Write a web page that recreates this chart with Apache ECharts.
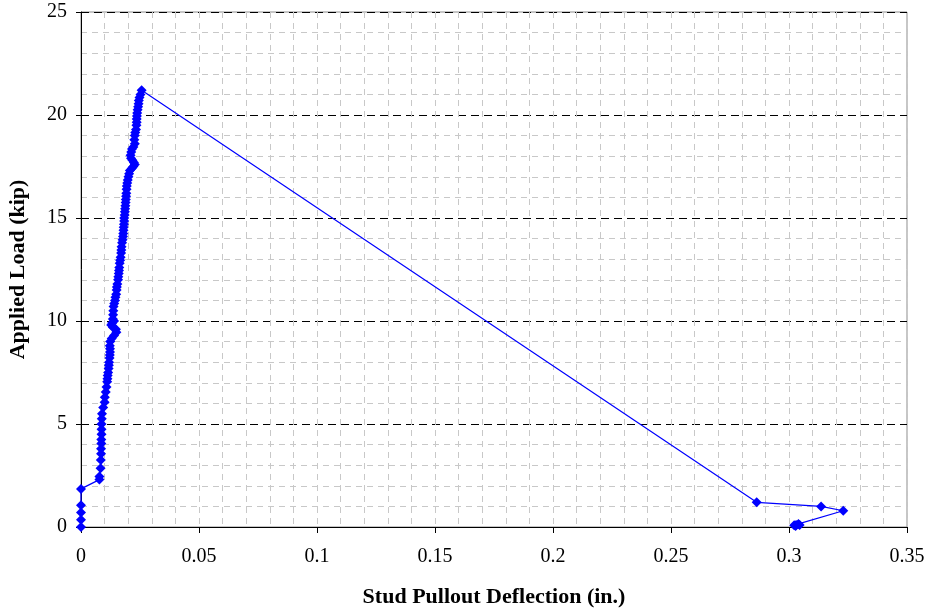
<!DOCTYPE html>
<html>
<head>
<meta charset="utf-8">
<script src="https://cdn.jsdelivr.net/npm/echarts@6/dist/echarts.min.js"></script>
<style>
html,body{margin:0;padding:0;background:#fff;}
#chart{width:930px;height:611px;}
</style>
</head>
<body>
<div id="chart"></div>
<script>
// Stud pullout deflection (in.)
const deflection = [
0,0,0,0,0,
0.0078,0.0078,0.0083,0.0084,0.0085,0.0085,0.0086,0.0086,0.0087,0.0087,0.0087,0.0088,0.0089,
0.0094,0.0100,0.0101,0.0105,0.0108,0.0111,0.0112,0.0113,0.0115,0.0117,0.0118,0.0119,0.0121,
0.0122,0.0123,0.0123,0.0122,0.0124,0.0130,0.0140,0.0150,0.0148,0.0135,0.0128,0.0132,0.0140,
0.0135,0.0136,0.0137,0.0138,0.0141,0.0144,0.0146,0.0149,0.0151,0.0152,0.0154,0.0157,0.0158,
0.0160,0.0161,0.0162,0.0164,0.0166,0.0168,0.0170,0.0171,0.0172,0.0174,0.0176,0.0178,0.0179,
0.0180,0.0181,0.0182,0.0183,0.0183,0.0185,0.0186,0.0187,0.0188,0.0189,0.0190,0.0191,0.0192,
0.0193,0.0194,0.0196,0.0198,0.0201,0.0204,0.0207,0.0215,0.0222,0.0228,0.0224,0.0218,0.0212,
0.0210,0.0213,0.0216,0.0222,0.0228,0.0226,0.0228,0.0230,0.0233,0.0235,0.0236,0.0236,0.0237,
0.0238,0.0240,0.0242,0.0244,0.0245,0.0248,0.0252,0.0257,
0.2863,0.3136,0.3230,0.3040,0.3030,0.3022,0.3045,0.3028
];
// Applied load (kip)
const load = [
0,0.35,0.7,1.05,1.85,
2.3,2.45,2.85,3.25,3.55,3.8,4.05,4.25,4.5,4.75,5.0,5.25,5.5,
5.8,6.05,6.3,6.55,6.8,7.05,7.2,7.35,7.5,7.7,7.85,8.0,8.2,
8.35,8.5,8.65,8.8,9.0,9.15,9.3,9.45,9.6,9.7,9.8,9.9,10.0,
10.1,10.3,10.5,10.7,10.85,11.0,11.15,11.3,11.5,11.65,11.8,12.0,12.15,
12.3,12.45,12.6,12.8,12.95,13.1,13.3,13.45,13.6,13.8,13.95,14.1,14.25,
14.4,14.55,14.7,14.85,15.0,15.15,15.3,15.45,15.6,15.75,15.9,16.05,16.2,
16.4,16.55,16.7,16.85,17.0,17.15,17.3,17.4,17.5,17.6,17.7,17.8,17.9,
18.05,18.2,18.35,18.45,18.6,18.8,19.0,19.15,19.3,19.5,19.65,19.8,19.95,
20.1,20.25,20.4,20.55,20.7,20.85,21.0,21.2,
1.2,1.0,0.79,0.15,0.1,0.08,0.1,0.05
];
const xTickLabels = ['0','0.05','0.1','0.15','0.2','0.25','0.3','0.35'];
const yTickLabels = ['0','5','10','15','20','25'];
const xTitle = 'Stud Pullout Deflection (in.)';
const yTitle = 'Applied Load (kip)';

const points = deflection.map((d, i) => [d, load[i]]);
const FONT = "'Liberation Serif','Times New Roman',serif";

const chart = echarts.init(document.getElementById('chart'), null, {renderer: 'canvas'});
chart.setOption({
  animation: false,
  backgroundColor: '#ffffff',
  grid: {left: 81, right: 23, top: 12, bottom: 84, containLabel: false, outerBoundsMode: 'none',
    show: true, borderColor: '#8c8c8c', borderWidth: 1},
  xAxis: {
    type: 'value', min: 0, max: 0.35, interval: 0.05,
    name: xTitle, nameLocation: 'middle', nameGap: 59,
    nameTextStyle: {fontFamily: FONT, fontWeight: 'bold', fontSize: 22, color: '#000'},
    axisLine: {show: true, lineStyle: {color: '#000', width: 1}},
    axisTick: {show: true, inside: false, length: 6, lineStyle: {color: '#000'}},
    axisLabel: {fontFamily: FONT, fontSize: 20, color: '#000', margin: 20,
      formatter: v => xTickLabels[Math.round(v / 0.05)]},
    splitLine: {show: true, lineStyle: {color: '#c8c8c8', type: [6, 5], width: 1}},
    minorTick: {show: false, splitNumber: 5},
    minorSplitLine: {show: true, lineStyle: {color: '#c8c8c8', type: [6, 5], width: 1}}
  },
  yAxis: {
    type: 'value', min: 0, max: 25, interval: 5,
    name: yTitle, nameLocation: 'middle', nameGap: 52,
    nameTextStyle: {fontFamily: FONT, fontWeight: 'bold', fontSize: 22, color: '#000'},
    axisLine: {show: true, lineStyle: {color: '#000', width: 1}},
    axisTick: {show: true, inside: false, length: 5, lineStyle: {color: '#000'}},
    axisLabel: {fontFamily: FONT, fontSize: 20, color: '#000', margin: 14,
      formatter: v => yTickLabels[Math.round(v / 5)]},
    splitLine: {show: true, lineStyle: {color: '#000', type: [8, 5], width: 1}},
    minorTick: {show: false, splitNumber: 5},
    minorSplitLine: {show: true, lineStyle: {color: '#c8c8c8', type: [6, 5], width: 1}}
  },
  series: [{
    type: 'line',
    data: points,
    symbol: 'diamond',
    symbolSize: 10,
    showAllSymbol: true,
    lineStyle: {color: '#0000ff', width: 1.2},
    itemStyle: {color: '#0000ff'},
    z: 5
  }]
});
</script>
</body>
</html>
